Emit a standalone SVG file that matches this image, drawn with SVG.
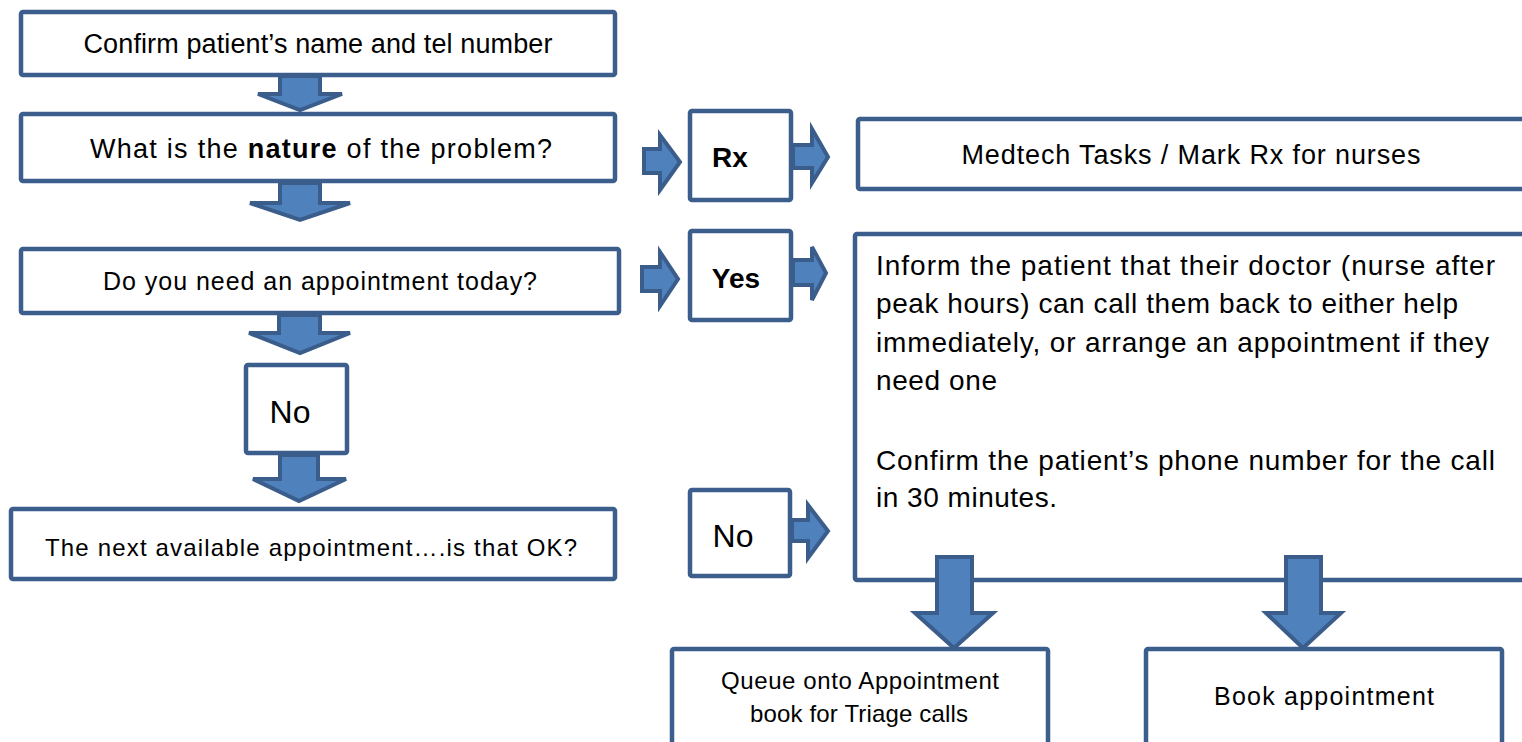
<svg xmlns="http://www.w3.org/2000/svg" width="1522" height="742" viewBox="0 0 1522 742">
<style>
.box{fill:#fff;stroke:#3b5e8c;stroke-width:4.5}
.arr{fill:#4f81bd;stroke:#3a5d8b;stroke-width:4;stroke-linejoin:miter}
text{font-family:"Liberation Sans",Arial,sans-serif;fill:#000}
.c{text-anchor:middle}
.b{font-weight:bold}
</style>
<rect width="1522" height="742" fill="#fff"/>
<g id="n1"><rect class="box" x="21" y="12" width="594" height="63" rx="2"/><text class="c" x="318" y="53" font-size="27" textLength="469">Confirm patient’s name and tel number</text></g>
<g id="n2"><rect class="box" x="21" y="114" width="594" height="67" rx="2"/><text class="c" x="321" y="158" font-size="27" textLength="462">What is the <tspan class="b">nature</tspan> of the problem?</text></g>
<g id="n3"><rect class="box" x="21" y="249" width="598" height="64" rx="2"/><text class="c" x="320" y="290" font-size="25" textLength="434">Do you need an appointment today?</text></g>
<g id="n4"><rect class="box" x="246" y="365" width="101" height="88" rx="2"/><text class="c" x="290" y="423" font-size="32">No</text></g>
<g id="n5"><rect class="box" x="11" y="509" width="604" height="70" rx="2"/><text class="c" x="311" y="556" font-size="24" textLength="532">The next available appointment….is that OK?</text></g>
<g id="n6"><rect class="box" x="690" y="111" width="101" height="89" rx="2"/><text class="c b" x="730" y="167" font-size="28">Rx</text></g>
<g id="n7"><rect class="box" x="690" y="231" width="101" height="89" rx="2"/><text class="c b" x="736" y="288" font-size="28">Yes</text></g>
<g id="n8"><rect class="box" x="690" y="490" width="100" height="86" rx="2"/><text class="c" x="733" y="547" font-size="32">No</text></g>
<g id="n9"><rect class="box" x="858" y="119" width="720" height="70" rx="2"/><text class="c" x="1191" y="164" font-size="27" textLength="459">Medtech Tasks / Mark Rx for nurses</text></g>
<g id="n10"><rect class="box" x="855" y="234" width="720" height="346" rx="2"/>
<text x="876" y="275" font-size="28" textLength="619">Inform the patient that their doctor (nurse after</text>
<text x="876" y="313" font-size="28" textLength="582">peak hours) can call them back to either help</text>
<text x="876" y="352" font-size="28" textLength="613">immediately, or arrange an appointment if they</text>
<text x="876" y="390" font-size="28" textLength="121">need one</text>
<text x="876" y="470" font-size="28" textLength="619">Confirm the patient’s phone number for the call</text>
<text x="876" y="507" font-size="28" textLength="181">in 30 minutes.</text></g>
<g id="n11"><rect class="box" x="672" y="649" width="376" height="120" rx="2"/><text class="c" x="860" y="689" font-size="24" textLength="278">Queue onto Appointment</text><text class="c" x="859" y="722" font-size="24" textLength="218">book for Triage calls</text></g>
<g id="n12"><rect class="box" x="1146" y="649" width="356" height="120" rx="2"/><text class="c" x="1324" y="705" font-size="25" textLength="220">Book appointment</text></g>
<g id="connectors">
<polygon class="arr" points="280,76 320,76 320,94 342,94 300,110 258,94 280,94"/>
<polygon class="arr" points="280,183 320,183 320,203 350,203 300,220 250,203 280,203"/>
<polygon class="arr" points="279,315 320,315 320,333 350,333 300,353 249,333 279,333"/>
<polygon class="arr" points="280,455 318,455 318,479 346,479 299,501 253,479 280,479"/>
<polygon class="arr" points="644,149 660,149 660,135 680,162 660,190 660,173 644,173"/>
<polygon class="arr" points="793,145 812,145 812,129 828,157 812,183 812,168 793,168"/>
<polygon class="arr" points="642,267 660,267 660,252 678,279 660,306 660,291 642,291"/>
<polygon class="arr" points="793,260 812,260 812,247 826,273 812,300 812,285 793,285"/>
<polygon class="arr" points="792,520 808,520 808,505 828,531 808,558 808,541 792,541"/>
<polygon class="arr" points="937,557 972,557 972,613 993,613 954,648 915,613 937,613"/>
<polygon class="arr" points="1286,557 1321,557 1321,613 1341,613 1303,648 1266,613 1286,613"/>
</g>
</svg>
